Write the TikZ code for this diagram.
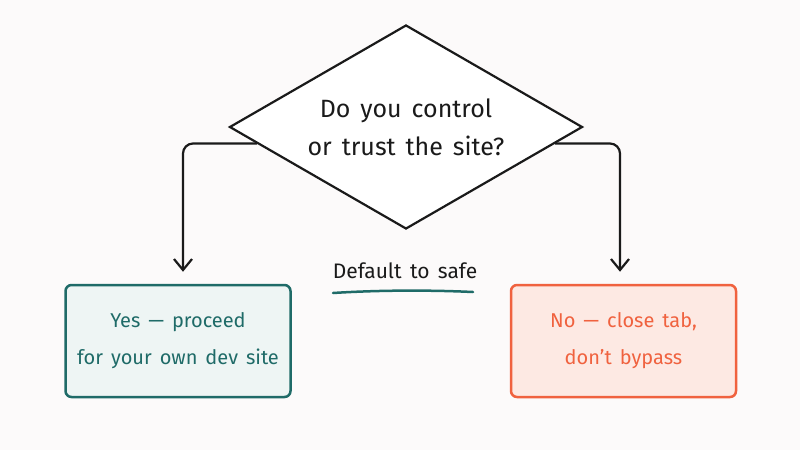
\documentclass[tikz,border=0pt]{standalone}
\usepackage{fontspec}
\setmainfont{Fira Sans}[WordSpace=1.5]
\usetikzlibrary{shapes.geometric,arrows.meta,calc}
\definecolor{bg}{HTML}{FCFAFA}
\definecolor{ink}{HTML}{1A1A1A}
\definecolor{tealc}{HTML}{1F6B68}
\definecolor{tealfill}{HTML}{EEF5F4}
\definecolor{orangec}{HTML}{F0623F}
\definecolor{orangefill}{HTML}{FDE9E3}
\tikzset{
  decision/.style={diamond, draw=ink, line width=2.2pt, fill=white, inner sep=0pt,
    shape aspect=1.73, minimum width=353pt, minimum height=204pt, align=center, text=ink,
    font=\fontsize{25}{38}\selectfont},
  yesbox/.style={draw=tealc, fill=tealfill, line width=2.5pt, rounded corners=6pt,
    minimum width=225pt, minimum height=112pt, align=center, text=tealc,
    font=\fontsize{20}{37}\selectfont},
  nobox/.style={draw=orangec, fill=orangefill, line width=2.5pt, rounded corners=6pt,
    minimum width=225pt, minimum height=112pt, align=center, text=orangec,
    font=\fontsize{20}{37}\selectfont},
  conn/.style={draw=ink, line width=2.2pt, rounded corners=10pt,
    -{Straight Barb[length=11pt,width=18pt,line width=2.2pt]}},
  lbl/.style={text=ink, font=\fontsize{21}{24}\selectfont},
}
\begin{document}
\begin{tikzpicture}[x=1pt,y=-1pt]
  \fill[bg] (0,0) rectangle (800,450);
  \useasboundingbox (0,0) rectangle (800,450);
  \node[decision] (q) at (406,127) {Do you control\\or trust the site?};
  \node[yesbox] (yes) at (178,341) {Yes — proceed\\for your own dev site};
  \node[nobox] (no) at (623.5,341) {No — close tab,\\don’t bypass};
  \coordinate (ls) at ($(q.west)!0.16!(q.south)$);
  \coordinate (rs) at ($(q.east)!0.16!(q.south)$);
  \draw[conn] (ls) -| ([xshift=5pt,yshift=12pt]yes.north);
  \draw[conn] (rs) -| ([xshift=-3.5pt,yshift=12pt]no.north);
  \node[lbl] (def) at (405,271) {Default to safe};
  \coordinate (u1) at (333,293);
  \coordinate (u2) at (473,292);
  \draw[tealc, line width=2.5pt, line cap=round] (u1) .. controls (380,290) and (430,290) .. (u2);
\end{tikzpicture}
\end{document}
